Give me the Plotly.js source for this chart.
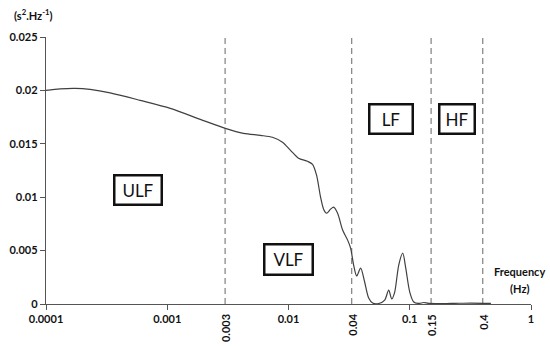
<!DOCTYPE html>
<html>
<head>
<meta charset="utf-8">
<script src="https://cdn.plot.ly/plotly-3.0.1.min.js"></script>
<style>html,body{margin:0;padding:0;background:#fff;}#chart{width:550px;height:346px;}</style>
</head>
<body>
<div id="chart"></div>
<script>
// Spectrum (frequency in Hz, PSD in s^2/Hz)
const freq = [1.000e-4, 1.305e-4, 1.737e-4, 2.310e-4, 3.381e-4, 5.98e-4, 1.059e-3, 1.874e-3, 3.015e-3, 4.247e-3,
  5.870e-3, 7.376e-3, 8.92e-3, 1.039e-2, 1.2096e-2, 1.435e-2, 1.579e-2, 1.704e-2, 1.839e-2, 1.947e-2,
  2.061e-2, 2.224e-2, 2.355e-2, 2.541e-2, 2.795e-2, 3.074e-2, 3.253e-2, 3.445e-2, 3.648e-2, 3.936e-2,
  4.247e-2, 4.584e-2, 4.946e-2, 5.543e-2, 6.215e-2, 6.706e-2, 7.100e-2, 7.516e-2, 8.111e-2, 8.752e-2,
  9.268e-2, 0.1000, 0.1079, 0.1187, 0.1305, 0.1435, 0.2182, 0.3193, 0.4671];
const psd = [0.02000, 0.02014, 0.02019, 0.02009, 0.01977, 0.01907, 0.01832, 0.01729, 0.01645, 0.01598,
  0.01579, 0.01561, 0.01514, 0.01439, 0.01365, 0.01336, 0.01308, 0.01206, 0.01000, 0.00888,
  0.00850, 0.00888, 0.00907, 0.00850, 0.00692, 0.00598, 0.00523, 0.00365, 0.00262, 0.00336,
  0.00206, 0.00056, 0.00009, 0.00005, 0.00037, 0.00131, 0.00047, 0.00112, 0.00365, 0.00477,
  0.00336, 0.00112, 0.00019, 0.00005, 0.00014, 0.00005, 0.00005, 0.00009, 0.00005];

// Band boundaries (as drawn) and their labels
const bandLines = [0.003, 0.0332, 0.15, 0.4];
const bandLineLabels = ['0.003', '0.04', '0.15', '0.4'];

// Band names
const bandNames = ['ULF', 'VLF', 'LF', 'HF'];

// Axis ticks
const xTickVals = [0.0001, 0.001, 0.01, 0.1, 1];
const xTickText = ['0.0001', '0.001', '0.01', '0.1', '1'];
const yTickVals = [0, 0.005, 0.01, 0.015, 0.02, 0.025];
const yTickText = ['0', '0.005', '0.01', '0.015', '0.02', '0.025'];

const FONT = 'Lato, "Open Sans", sans-serif';

const traces = [];
bandLines.forEach(v => {
  traces.push({x: [v, v], y: [0, 0.025], mode: 'lines', hoverinfo: 'skip',
    line: {color: '#808080', width: 1.2, dash: '6px,4px'}, showlegend: false});
});
traces.push({x: freq, y: psd, mode: 'lines', line: {color: '#404040', width: 1.2, shape: 'spline', smoothing: 0.8}, showlegend: false});

// box placements (log10 x, y) and sizes
const boxPos = [
  {x: -3.2438, y: 0.01070, w: 45, h: 27},
  {x: -2.0041, y: 0.00421, w: 46, h: 28},
  {x: -1.1529, y: 0.01734, w: 41, h: 27},
  {x: -0.6074, y: 0.01734, w: 33, h: 27}
];

const annotations = [];
bandNames.forEach((n, i) => {
  const p = boxPos[i];
  annotations.push({x: p.x, y: p.y, xref: 'x', yref: 'y', text: n, showarrow: false,
    font: {family: FONT, size: 17, color: '#111'}, bordercolor: '#111', borderwidth: 2.5, borderpad: 0,
    width: p.w, height: p.h, bgcolor: '#fff', xanchor: 'center', yanchor: 'middle'});
});
bandLines.forEach((v, i) => {
  annotations.push({x: Math.log10(v), y: -0.0300, xref: 'x', yref: 'paper', text: '<b>' + bandLineLabels[i] + '</b>',
    showarrow: false, textangle: -90, xanchor: 'center', yanchor: 'top',
    font: {family: FONT, size: 11, color: '#111'}});
});
annotations.push({x: -0.0268, y: 1.0861, xref: 'paper', yref: 'paper', text: '<b>(s<sup>2</sup>.Hz<sup>-1</sup>)</b>',
  showarrow: false, xanchor: 'center', yanchor: 'middle', font: {family: FONT, size: 11, color: '#111'}});
annotations.push({x: 0.9773, y: 0.1199, xref: 'paper', yref: 'paper', text: '<b>Frequency</b>',
  showarrow: false, xanchor: 'center', yanchor: 'middle', font: {family: FONT, size: 11, color: '#111'}});
annotations.push({x: 0.9773, y: 0.0562, xref: 'paper', yref: 'paper', text: '<b>(Hz)</b>',
  showarrow: false, xanchor: 'center', yanchor: 'middle', font: {family: FONT, size: 11, color: '#111'}});

const layout = {
  width: 550, height: 346,
  margin: {l: 46, r: 19, t: 37, b: 42, pad: 0},
  paper_bgcolor: '#fff', plot_bgcolor: '#fff',
  xaxis: {type: 'log', range: [-4, 0], tickvals: xTickVals, ticktext: xTickText, ticks: 'outside', ticklen: 5,
    tickcolor: '#555', showline: true, linecolor: '#555', linewidth: 1.2, showgrid: false, zeroline: false,
    tickfont: {family: FONT, size: 11, color: '#111', weight: 'bold'}},
  yaxis: {range: [0, 0.025], tickvals: yTickVals, ticktext: yTickText, ticks: 'outside', ticklen: 5,
    tickcolor: '#555', showline: true, linecolor: '#555', linewidth: 1.2, showgrid: false, zeroline: false,
    tickfont: {family: FONT, size: 11, color: '#111', weight: 'bold'}},
  annotations: annotations,
  showlegend: false
};

Plotly.newPlot('chart', traces, layout, {staticPlot: true, displayModeBar: false});
</script>
</body>
</html>
